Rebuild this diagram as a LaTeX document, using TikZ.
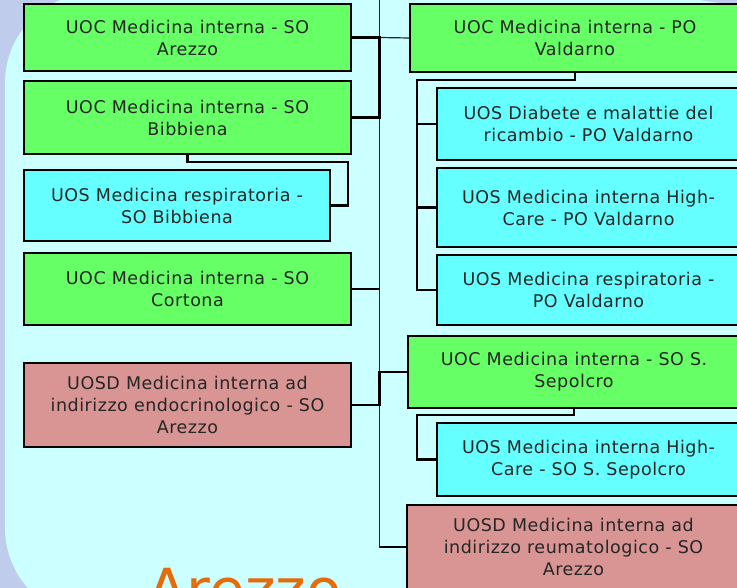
\documentclass[tikz,border=0pt]{standalone}
\usepackage{fontspec}
\newfontfamily\orgfont{DejaVu Sans}[LetterSpace=3]
\newfontfamily\cityfont{DejaVu Sans}
\usepackage{xcolor}
\usepackage{tikz}
\definecolor{slidebg}{HTML}{C0CCEC}
\definecolor{panelcyan}{HTML}{CCFFFF}
\definecolor{uocgreen}{HTML}{66FF66}
\definecolor{uoscyan}{HTML}{66FFFF}
\definecolor{uosdpink}{HTML}{D99594}
\definecolor{cityorange}{HTML}{E46C0A}
\tikzstyle{unit} = [rectangle, draw=black, line width=1.6pt, text centered, align=center, inner sep=0pt, text=black!85, font=\orgfont\fontsize{17.5}{22}\selectfont]
\tikzstyle{uoc} = [unit, fill=uocgreen]
\tikzstyle{uos} = [unit, fill=uoscyan]
\tikzstyle{uosd} = [unit, fill=uosdpink]
\tikzstyle{link} = [line width=2.2pt, black]
\tikzstyle{trunk} = [line width=1.2pt, black!85]

\begin{document}
\begin{tikzpicture}[x=1pt, y=-1pt]

\fill [slidebg] (0,0) rectangle (737,588);
\useasboundingbox (0,0) rectangle (737,588);
\fill [panelcyan] (5,528) -- (5,83) arc[start angle=180, end angle=90, radius=90pt] -- (640,-7) .. controls (680,-4) and (710,2) .. (745,7) -- (745,630) -- (95,618) arc[start angle=270, end angle=180, radius=90pt] -- cycle;

\node (city) [anchor=base west, inner sep=0pt, text=cityorange, font=\cityfont\fontsize{58}{60}\selectfont] at (147,610) {Arezzo};

\node (arezzo) [uoc, minimum width=327pt, minimum height=67pt] at (187.5,37.5) {UOC Medicina interna - SO\\Arezzo};
\node (bibbiena) [uoc, minimum width=327pt, minimum height=73pt] at (187.5,117.5) {UOC Medicina interna - SO\\Bibbiena};
\node (respbib) [uos, minimum width=306pt, minimum height=71pt] at (177,205.5) {UOS Medicina respiratoria -\\SO Bibbiena};
\node (cortona) [uoc, minimum width=327pt, minimum height=72pt] at (187.5,289) {UOC Medicina interna - SO\\Cortona};
\node (endocrino) [uosd, minimum width=327pt, minimum height=84pt] at (187.5,405) {UOSD Medicina interna ad\\indirizzo endocrinologico - SO\\Arezzo};

\node (valdarno) [uoc, minimum width=330pt, minimum height=68pt] at (575,38) {UOC Medicina interna - PO\\Valdarno};
\node (diabete) [uos, minimum width=303pt, minimum height=72pt] at (588.5,124) {UOS Diabete e malattie del\\ricambio - PO Valdarno};
\node (hcvaldarno) [uos, minimum width=303pt, minimum height=79pt] at (588.5,207.5) {UOS Medicina interna High-\\Care - PO Valdarno};
\node (respvald) [uos, minimum width=303pt, minimum height=70pt] at (588.5,290) {UOS Medicina respiratoria -\\PO Valdarno};
\node (sepolcro) [uoc, minimum width=332pt, minimum height=72pt] at (574,372) {UOC Medicina interna - SO S.\\Sepolcro};
\node (hcsepolcro) [uos, minimum width=303pt, minimum height=73pt] at (588.5,459.5) {UOS Medicina interna High-\\Care - SO S. Sepolcro};
\node (reuma) [uosd, minimum width=333pt, minimum height=84pt] at (573.5,547) {UOSD Medicina interna ad\\indirizzo reumatologico - SO\\Arezzo};

\coordinate (trunktop) at (379.5,-10);
\coordinate (bendbib) at (348,162);
\coordinate (bendvald) at (417,80);
\coordinate (bendsep) at (417,415);

\draw [trunk] (trunktop) |- (reuma.west);
\draw [trunk] (arezzo.east -| trunktop) -- (valdarno.west);
\draw [link] (arezzo.east) -- (arezzo.east -| trunktop) |- (bibbiena.east);
\draw [link] (cortona.east) -- (cortona.east -| trunktop);
\draw [link] (endocrino.east) -| (trunktop |- sepolcro.west) -- (sepolcro.west);
\draw [link] (reuma.west -| trunktop) -- (reuma.west);
\draw [link] (bibbiena.south) |- (bendbib) |- (respbib.east);
\draw [link] (valdarno.south) |- (bendvald) |- (respvald.west);
\draw [link] (bendvald |- diabete.west) -- (diabete.west);
\draw [link] (bendvald |- hcvaldarno.west) -- (hcvaldarno.west);
\draw [link] (sepolcro.south) |- (bendsep) |- (hcsepolcro.west);

\end{tikzpicture}
\end{document}
